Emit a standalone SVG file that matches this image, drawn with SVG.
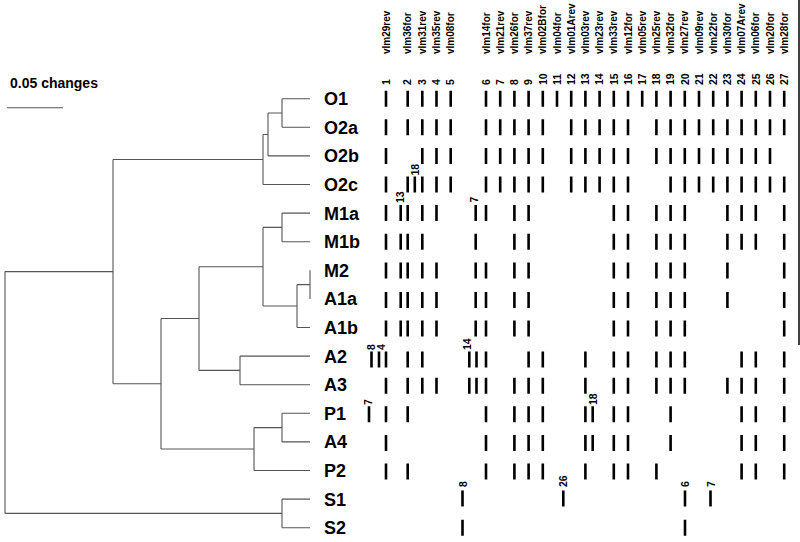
<svg xmlns="http://www.w3.org/2000/svg" width="800" height="542" viewBox="0 0 800 542">
<style>
.t{stroke:#555;stroke-width:1.1;fill:none}
.b{stroke:#000;stroke-width:2.6;fill:none}
.lab{font-family:"Liberation Sans",Arial,sans-serif;font-weight:bold;font-size:18px;fill:#000}
.h{font-family:"Liberation Sans",Arial,sans-serif;font-weight:bold;font-size:10px;fill:#000}
.n{font-family:"Liberation Sans",Arial,sans-serif;font-weight:bold;font-size:10.5px;fill:#000}
.sc{font-family:"Liberation Sans",Arial,sans-serif;font-weight:bold;font-size:14px;fill:#000}
</style>
<rect width="800" height="542" fill="#fff"/>
<g id="scale">
<text class="sc" x="10" y="88">0.05 changes</text>
<line x1="7" y1="107.7" x2="63" y2="107.7" stroke="#555" stroke-width="1.1"/>
</g>
<g id="connectors" class="t">
<path d="M282 98.7H310M282 127.3H310M282 98.7V127.3M268 113H282M268 113V155.9M268 155.9H310M263 134.5H268M263 134.5V184.5M263 184.5H310M113 159.5H263"/>
<path d="M282 213.1H310M282 241.7H310M282 213.1V241.7M263 227.4H282M310 270.3V298.9M297 284.6H310M297 284.6V327.5M297 327.5H310M263 306H297M263 227.4V306M199 266.7H263"/>
<path d="M240 356.1H310M240 384.7H310M240 356.1V384.7M199 370.4H240M199 266.7V370.4M161 318.5H199"/>
<path d="M282 413.3H310M282 441.9H310M282 413.3V441.9M254 427.6H282M254 427.6V470.5M254 470.5H310M161 449H254M161 318.5V449M113 383.8H161M113 159.5V383.8M5 271.6H113"/>
<path d="M282 499.1H310M282 527.7H310M282 499.1V527.7M5 513.4H282M5 271.6V513.4"/>
</g>
<g id="leaves">
<g id="O1"><text class="lab" x="324" y="105.2">O1</text></g>
<g id="O2a"><text class="lab" x="324" y="133.8">O2a</text></g>
<g id="O2b"><text class="lab" x="324" y="162.4">O2b</text></g>
<g id="O2c"><text class="lab" x="324" y="191">O2c</text></g>
<g id="M1a"><text class="lab" x="324" y="219.6">M1a</text></g>
<g id="M1b"><text class="lab" x="324" y="248.2">M1b</text></g>
<g id="M2"><text class="lab" x="324" y="276.8">M2</text></g>
<g id="A1a"><text class="lab" x="324" y="305.4">A1a</text></g>
<g id="A1b"><text class="lab" x="324" y="334">A1b</text></g>
<g id="A2"><text class="lab" x="324" y="362.6">A2</text></g>
<g id="A3"><text class="lab" x="324" y="391.2">A3</text></g>
<g id="P1"><text class="lab" x="324" y="419.8">P1</text></g>
<g id="A4"><text class="lab" x="324" y="448.4">A4</text></g>
<g id="P2"><text class="lab" x="324" y="477">P2</text></g>
<g id="S1"><text class="lab" x="324" y="505.6">S1</text></g>
<g id="S2"><text class="lab" x="324" y="534.2">S2</text></g>
</g>
<g id="headers">
<text class="h" transform="translate(389.5,54) rotate(-90)">vlm29rev</text>
<text class="h" transform="translate(411.2,54) rotate(-90)">vlm36for</text>
<text class="h" transform="translate(425.8,54) rotate(-90)">vlm31rev</text>
<text class="h" transform="translate(440,54) rotate(-90)">vlm35rev</text>
<text class="h" transform="translate(454.2,54) rotate(-90)">vlm08for</text>
<text class="h" transform="translate(489.5,54) rotate(-90)">vlm14for</text>
<text class="h" transform="translate(503.7,54) rotate(-90)">vlm21rev</text>
<text class="h" transform="translate(517.9,54) rotate(-90)">vlm26for</text>
<text class="h" transform="translate(532.1,54) rotate(-90)">vlm37rev</text>
<text class="h" transform="translate(546.3,54) rotate(-90)">vlm02Bfor</text>
<text class="h" transform="translate(560.5,54) rotate(-90)">vlm04for</text>
<text class="h" transform="translate(574.7,54) rotate(-90)">vlm01Arev</text>
<text class="h" transform="translate(588.9,54) rotate(-90)">vlm03rev</text>
<text class="h" transform="translate(603.1,54) rotate(-90)">vlm23rev</text>
<text class="h" transform="translate(617.3,54) rotate(-90)">vlm33rev</text>
<text class="h" transform="translate(631.5,54) rotate(-90)">vlm12for</text>
<text class="h" transform="translate(645.7,54) rotate(-90)">vlm05rev</text>
<text class="h" transform="translate(659.9,54) rotate(-90)">vlm25rev</text>
<text class="h" transform="translate(674.1,54) rotate(-90)">vlm32for</text>
<text class="h" transform="translate(688.3,54) rotate(-90)">vlm27rev</text>
<text class="h" transform="translate(702.5,54) rotate(-90)">vlm09rev</text>
<text class="h" transform="translate(716.7,54) rotate(-90)">vlm22for</text>
<text class="h" transform="translate(730.9,54) rotate(-90)">vlm30for</text>
<text class="h" transform="translate(745.1,54) rotate(-90)">vlm07Arev</text>
<text class="h" transform="translate(759.3,54) rotate(-90)">vlm06for</text>
<text class="h" transform="translate(773.5,54) rotate(-90)">vlm20for</text>
<text class="h" transform="translate(787.7,54) rotate(-90)">vlm28for</text>
</g>
<g id="numbers">
<text class="n" transform="translate(389.7,85) rotate(-90)">1</text>
<text class="n" transform="translate(411.4,85) rotate(-90)">2</text>
<text class="n" transform="translate(426,85) rotate(-90)">3</text>
<text class="n" transform="translate(440.2,85) rotate(-90)">4</text>
<text class="n" transform="translate(454.4,85) rotate(-90)">5</text>
<text class="n" transform="translate(489.7,85) rotate(-90)">6</text>
<text class="n" transform="translate(503.9,85) rotate(-90)">7</text>
<text class="n" transform="translate(518.1,85) rotate(-90)">8</text>
<text class="n" transform="translate(532.3,85) rotate(-90)">9</text>
<text class="n" transform="translate(546.5,85) rotate(-90)">10</text>
<text class="n" transform="translate(560.7,85) rotate(-90)">11</text>
<text class="n" transform="translate(574.9,85) rotate(-90)">12</text>
<text class="n" transform="translate(589.1,85) rotate(-90)">13</text>
<text class="n" transform="translate(603.3,85) rotate(-90)">14</text>
<text class="n" transform="translate(617.5,85) rotate(-90)">15</text>
<text class="n" transform="translate(631.7,85) rotate(-90)">16</text>
<text class="n" transform="translate(645.9,85) rotate(-90)">17</text>
<text class="n" transform="translate(660.1,85) rotate(-90)">18</text>
<text class="n" transform="translate(674.3,85) rotate(-90)">19</text>
<text class="n" transform="translate(688.5,85) rotate(-90)">20</text>
<text class="n" transform="translate(702.7,85) rotate(-90)">21</text>
<text class="n" transform="translate(716.9,85) rotate(-90)">22</text>
<text class="n" transform="translate(731.1,85) rotate(-90)">23</text>
<text class="n" transform="translate(745.3,85) rotate(-90)">24</text>
<text class="n" transform="translate(759.5,85) rotate(-90)">25</text>
<text class="n" transform="translate(773.7,85) rotate(-90)">26</text>
<text class="n" transform="translate(787.9,85) rotate(-90)">27</text>
</g>
<g id="matrix" class="b">
<path id="r-O1" d="M386 90.7v16M407.7 90.7v16M422.3 90.7v16M436.5 90.7v16M450.7 90.7v16M486 90.7v16M500.2 90.7v16M514.4 90.7v16M528.6 90.7v16M542.8 90.7v16M557 90.7v16M571.2 90.7v16M585.4 90.7v16M599.6 90.7v16M613.8 90.7v16M628 90.7v16M642.2 90.7v16M656.4 90.7v16M670.6 90.7v16M684.8 90.7v16M699 90.7v16M713.2 90.7v16M727.4 90.7v16M741.6 90.7v16M755.8 90.7v16M770 90.7v16M784.2 90.7v16"/>
<path id="r-O2a" d="M386 119.3v16M407.7 119.3v16M422.3 119.3v16M436.5 119.3v16M450.7 119.3v16M486 119.3v16M500.2 119.3v16M514.4 119.3v16M528.6 119.3v16M542.8 119.3v16M571.2 119.3v16M585.4 119.3v16M599.6 119.3v16M613.8 119.3v16M628 119.3v16M656.4 119.3v16M670.6 119.3v16M684.8 119.3v16M699 119.3v16M713.2 119.3v16M727.4 119.3v16M741.6 119.3v16M755.8 119.3v16M770 119.3v16M784.2 119.3v16"/>
<path id="r-O2b" d="M386 147.9v16M422.3 147.9v16M436.5 147.9v16M450.7 147.9v16M486 147.9v16M500.2 147.9v16M514.4 147.9v16M528.6 147.9v16M542.8 147.9v16M571.2 147.9v16M585.4 147.9v16M599.6 147.9v16M613.8 147.9v16M628 147.9v16M656.4 147.9v16M670.6 147.9v16M684.8 147.9v16M699 147.9v16M713.2 147.9v16M727.4 147.9v16M741.6 147.9v16M755.8 147.9v16M770 147.9v16"/>
<path id="r-O2c" d="M386 176.5v16M407.7 176.5v16M414.8 176.5v16M422.3 176.5v16M436.5 176.5v16M450.7 176.5v16M486 176.5v16M500.2 176.5v16M514.4 176.5v16M528.6 176.5v16M542.8 176.5v16M571.2 176.5v16M585.4 176.5v16M599.6 176.5v16M613.8 176.5v16M628 176.5v16M670.6 176.5v16M684.8 176.5v16M699 176.5v16M713.2 176.5v16M727.4 176.5v16M741.6 176.5v16M755.8 176.5v16M770 176.5v16M784.2 176.5v16"/>
<path id="r-M1a" d="M386 205.1v16M400.7 205.1v16M407.7 205.1v16M422.3 205.1v16M436.5 205.1v16M475.7 205.1v16M486 205.1v16M514.4 205.1v16M528.6 205.1v16M613.8 205.1v16M628 205.1v16M656.4 205.1v16M670.6 205.1v16M684.8 205.1v16M727.4 205.1v16M741.6 205.1v16M755.8 205.1v16M784.2 205.1v16"/>
<path id="r-M1b" d="M386 233.7v16M400.7 233.7v16M407.7 233.7v16M422.3 233.7v16M475.7 233.7v16M514.4 233.7v16M528.6 233.7v16M613.8 233.7v16M628 233.7v16M656.4 233.7v16M670.6 233.7v16M684.8 233.7v16M727.4 233.7v16M741.6 233.7v16M755.8 233.7v16M784.2 233.7v16"/>
<path id="r-M2" d="M386 262.5v16M400.7 262.5v16M407.7 262.5v16M422.3 262.5v16M436.5 262.5v16M475.7 262.5v16M486 262.5v16M514.4 262.5v16M528.6 262.5v16M613.8 262.5v16M628 262.5v16M656.4 262.5v16M670.6 262.5v16M684.8 262.5v16M727.4 262.5v16M784.2 262.5v16"/>
<path id="r-A1a" d="M386 291.9v16M400.7 291.9v16M407.7 291.9v16M422.3 291.9v16M436.5 291.9v16M475.7 291.9v16M486 291.9v16M514.4 291.9v16M528.6 291.9v16M613.8 291.9v16M628 291.9v16M656.4 291.9v16M670.6 291.9v16M684.8 291.9v16M727.4 291.9v16M784.2 291.9v16"/>
<path id="r-A1b" d="M386 320.5v16M400.7 320.5v16M407.7 320.5v16M422.3 320.5v16M436.5 320.5v16M475.7 320.5v16M486 320.5v16M514.4 320.5v16M528.6 320.5v16M613.8 320.5v16M628 320.5v16M656.4 320.5v16M670.6 320.5v16M684.8 320.5v16M784.2 320.5v16"/>
<path id="r-A2" d="M371.5 351.5v16M379 351.5v16M386 351.5v16M407.7 351.5v16M422.3 351.5v16M469.3 351.5v16M476.5 351.5v16M486 351.5v16M528.6 351.5v16M542.8 351.5v16M585.4 351.5v16M613.8 351.5v16M628 351.5v16M656.4 351.5v16M670.6 351.5v16M684.8 351.5v16M741.6 351.5v16M755.8 351.5v16M784.2 351.5v16"/>
<path id="r-A3" d="M386 377.7v16M407.7 377.7v16M422.3 377.7v16M436.5 377.7v16M469.3 377.7v16M476.5 377.7v16M486 377.7v16M514.4 377.7v16M528.6 377.7v16M542.8 377.7v16M585.4 377.7v16M613.8 377.7v16M628 377.7v16M656.4 377.7v16M670.6 377.7v16M684.8 377.7v16M727.4 377.7v16M741.6 377.7v16M755.8 377.7v16M784.2 377.7v16"/>
<path id="r-P1" d="M369 406.3v16M386 406.3v16M407.7 406.3v16M486 406.3v16M514.4 406.3v16M528.6 406.3v16M542.8 406.3v16M585.4 406.3v16M592.7 406.3v16M613.8 406.3v16M628 406.3v16M670.6 406.3v16M741.6 406.3v16M755.8 406.3v16M784.2 406.3v16"/>
<path id="r-A4" d="M386 434.9v16M486 434.9v16M514.4 434.9v16M528.6 434.9v16M542.8 434.9v16M585.4 434.9v16M592.7 434.9v16M613.8 434.9v16M628 434.9v16M670.6 434.9v16M741.6 434.9v16M755.8 434.9v16M784.2 434.9v16"/>
<path id="r-P2" d="M386 463.5v16M407.7 463.5v16M486 463.5v16M514.4 463.5v16M528.6 463.5v16M542.8 463.5v16M585.4 463.5v16M613.8 463.5v16M628 463.5v16M656.4 463.5v16M741.6 463.5v16M755.8 463.5v16M784.2 463.5v16"/>
<path id="r-S1" d="M462.5 490.5v16M563.3 490.5v16M685 490.5v16M710.5 490.5v16"/>
<path id="r-S2" d="M462.5 519.7v16M685 519.7v16"/>
</g>
<g id="band-labels">
<text class="n" transform="translate(418.5,175.5) rotate(-90)">18</text>
<text class="n" transform="translate(404.4,203) rotate(-90)">13</text>
<text class="n" transform="translate(478.2,202.5) rotate(-90)">7</text>
<text class="n" transform="translate(375.2,350) rotate(-90)">8</text>
<text class="n" transform="translate(384.7,350) rotate(-90)">4</text>
<text class="n" transform="translate(471.2,350) rotate(-90)">14</text>
<text class="n" transform="translate(372.2,405) rotate(-90)">7</text>
<text class="n" transform="translate(596.7,405) rotate(-90)">18</text>
<text class="n" transform="translate(466.7,487) rotate(-90)">8</text>
<text class="n" transform="translate(567.2,487) rotate(-90)">26</text>
<text class="n" transform="translate(688.7,487) rotate(-90)">6</text>
<text class="n" transform="translate(715.2,487) rotate(-90)">7</text>
</g>
<line x1="799" y1="0" x2="799" y2="345" stroke="#000" stroke-width="1.5"/>
</svg>
